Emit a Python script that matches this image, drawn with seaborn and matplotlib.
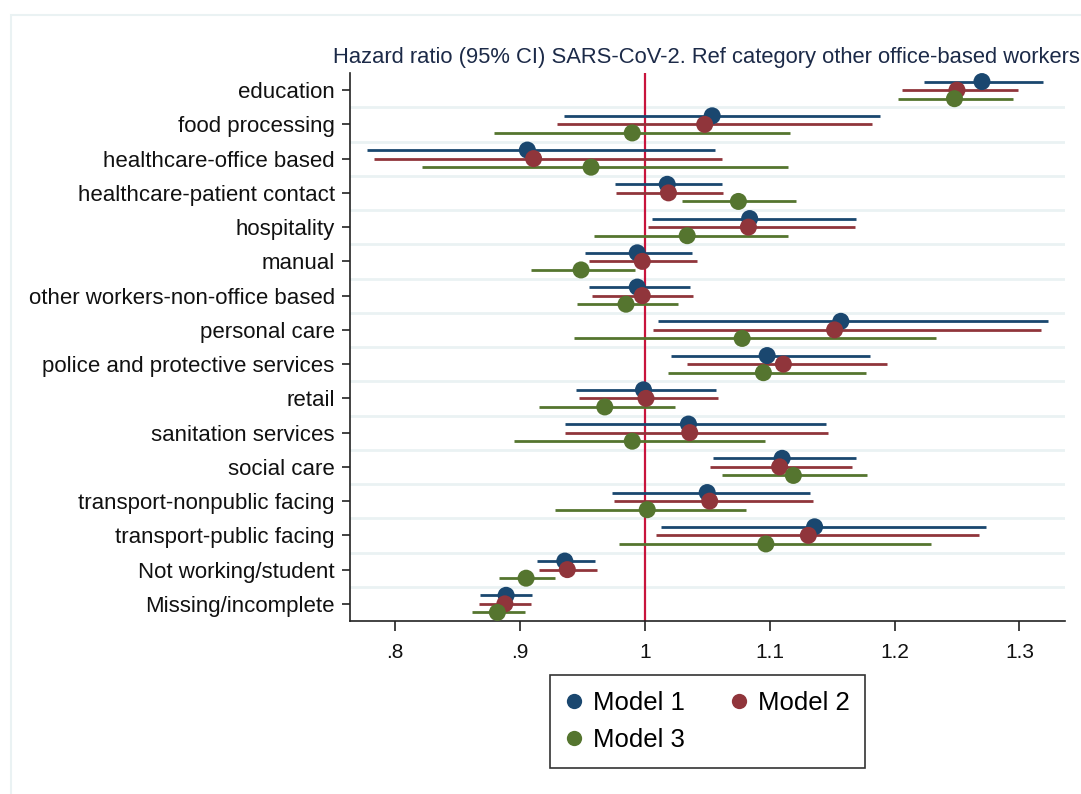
import numpy as np
import pandas as pd
import matplotlib
matplotlib.use("Agg")
import matplotlib.pyplot as plt
import seaborn as sns
from matplotlib.lines import Line2D
from matplotlib.patches import Rectangle

categories = ["education", "food processing", "healthcare-office based",
              "healthcare-patient contact", "hospitality", "manual",
              "other workers-non-office based", "personal care",
              "police and protective services", "retail", "sanitation services",
              "social care", "transport-nonpublic facing", "transport-public facing",
              "Not working/student", "Missing/incomplete"]

m1_hr = [1.270, 1.054, 0.906, 1.018, 1.084, 0.994, 0.994, 1.157, 1.098, 0.999,
         1.035, 1.110, 1.050, 1.136, 0.936, 0.889]
m1_lo = [1.224, 0.935, 0.778, 0.976, 1.006, 0.952, 0.955, 1.011, 1.021, 0.945,
         0.936, 1.055, 0.974, 1.013, 0.914, 0.868]
m1_hi = [1.319, 1.188, 1.056, 1.062, 1.169, 1.038, 1.036, 1.323, 1.180, 1.057,
         1.145, 1.169, 1.132, 1.273, 0.960, 0.910]

m2_hr = [1.250, 1.048, 0.911, 1.019, 1.083, 0.998, 0.998, 1.152, 1.111, 1.001,
         1.036, 1.108, 1.052, 1.131, 0.938, 0.888]
m2_lo = [1.206, 0.930, 0.783, 0.977, 1.003, 0.955, 0.958, 1.007, 1.034, 0.947,
         0.936, 1.052, 0.975, 1.009, 0.915, 0.867]
m2_hi = [1.299, 1.182, 1.062, 1.063, 1.168, 1.042, 1.039, 1.317, 1.194, 1.059,
         1.147, 1.166, 1.135, 1.268, 0.962, 0.909]

m3_hr = [1.248, 0.990, 0.957, 1.075, 1.034, 0.949, 0.985, 1.078, 1.095, 0.968,
         0.990, 1.119, 1.002, 1.097, 0.905, 0.882]
m3_lo = [1.203, 0.879, 0.822, 1.030, 0.959, 0.909, 0.946, 0.943, 1.019, 0.915,
         0.895, 1.062, 0.928, 0.979, 0.883, 0.862]
m3_hi = [1.295, 1.116, 1.115, 1.121, 1.115, 0.992, 1.027, 1.233, 1.177, 1.024,
         1.096, 1.178, 1.081, 1.229, 0.928, 0.904]

models = ["Model 1", "Model 2", "Model 3"]
xticks = [0.8, 0.9, 1.0, 1.1, 1.2, 1.3]
xticklabels = [".8", ".9", "1", "1.1", "1.2", "1.3"]
title = "Hazard ratio (95% CI) SARS-CoV-2. Ref category other office-based workers"

colors = {"Model 1": "#1a476f", "Model 2": "#90353b", "Model 3": "#55752f"}
offsets = {"Model 1": -0.25, "Model 2": 0.0, "Model 3": 0.25}

rows = []
for m, hr, lo, hi in zip(models, [m1_hr, m2_hr, m3_hr], [m1_lo, m2_lo, m3_lo], [m1_hi, m2_hi, m3_hi]):
    for i, c in enumerate(categories):
        rows.append({"category": c, "model": m, "hr": hr[i], "lo": lo[i], "hi": hi[i],
                     "pos": i + offsets[m]})
df = pd.DataFrame(rows)

sns.set_theme(style="white")
plt.rcParams["font.family"] = ["Liberation Sans", "DejaVu Sans"]

fig = plt.figure(figsize=(10.81, 7.94), dpi=100)
ax = fig.add_axes([350 / 1081, 1 - 621 / 794, 715 / 1081, 548 / 794])

# outer frame
fig.patches.append(Rectangle((11 / 1081, -0.05), 1.2, 1 - 15 / 794 + 0.05, transform=fig.transFigure,
                             fill=False, edgecolor="#eaf2f3", linewidth=1.5, zorder=0))

# horizontal gridlines between categories
for b in np.arange(0.5, len(categories) - 1, 1.0):
    ax.axhline(b, color="#eaf2f3", linewidth=2.0, zorder=0)

ax.axvline(1.0, color="#c8143c", linewidth=1.6, zorder=1)

for m in models:
    sub = df[df["model"] == m]
    ax.hlines(sub["pos"], sub["lo"], sub["hi"], color=colors[m], linewidth=2.0, zorder=2)

sns.scatterplot(data=df, x="hr", y="pos", hue="model", palette=colors, s=150,
                edgecolor="none", legend=False, ax=ax, zorder=3)

ax.set_xlim(0.764, 1.3365)
ax.set_ylim(len(categories) - 0.5, -0.5)
ax.set_yticks(range(len(categories)))
ax.set_yticklabels(categories, fontsize=16, color="#111111")
ax.set_xticks(xticks)
ax.set_xticklabels(xticklabels, fontsize=15, color="#111111")
ax.set_xlabel("")
ax.set_ylabel("")
for s in ["top", "right"]:
    ax.spines[s].set_visible(False)
for s in ["left", "bottom"]:
    ax.spines[s].set_color("#222222")
    ax.spines[s].set_linewidth(1.2)
ax.tick_params(axis="y", length=6, width=1.2, color="#222222", pad=5, left=True)
ax.tick_params(axis="x", length=7, width=1.2, color="#222222", pad=9, bottom=True)

fig.text(333 / 1081, 1 - 58 / 794, title, fontsize=15.8, color="#1c2a48",
         ha="left", va="center")

handles = [Line2D([], [], marker="o", linestyle="none", markersize=11,
                  markerfacecolor=colors[m], markeredgecolor="none") for m in models]
order = [0, 2, 1]
fig.legend([handles[i] for i in order], [models[i] for i in order], ncol=2,
           loc="center", bbox_to_anchor=(707.5 / 1081, 1 - 721.5 / 794),
           fontsize=18.5, frameon=True, fancybox=False, edgecolor="black",
           labelcolor="black",
           handletextpad=0.4, columnspacing=1.75, labelspacing=0.52, borderpad=0.6,
           handlelength=0.7)
leg = fig.legends[0]
leg.get_frame().set_linewidth(1.2)

fig.savefig("out.png", dpi=100)
